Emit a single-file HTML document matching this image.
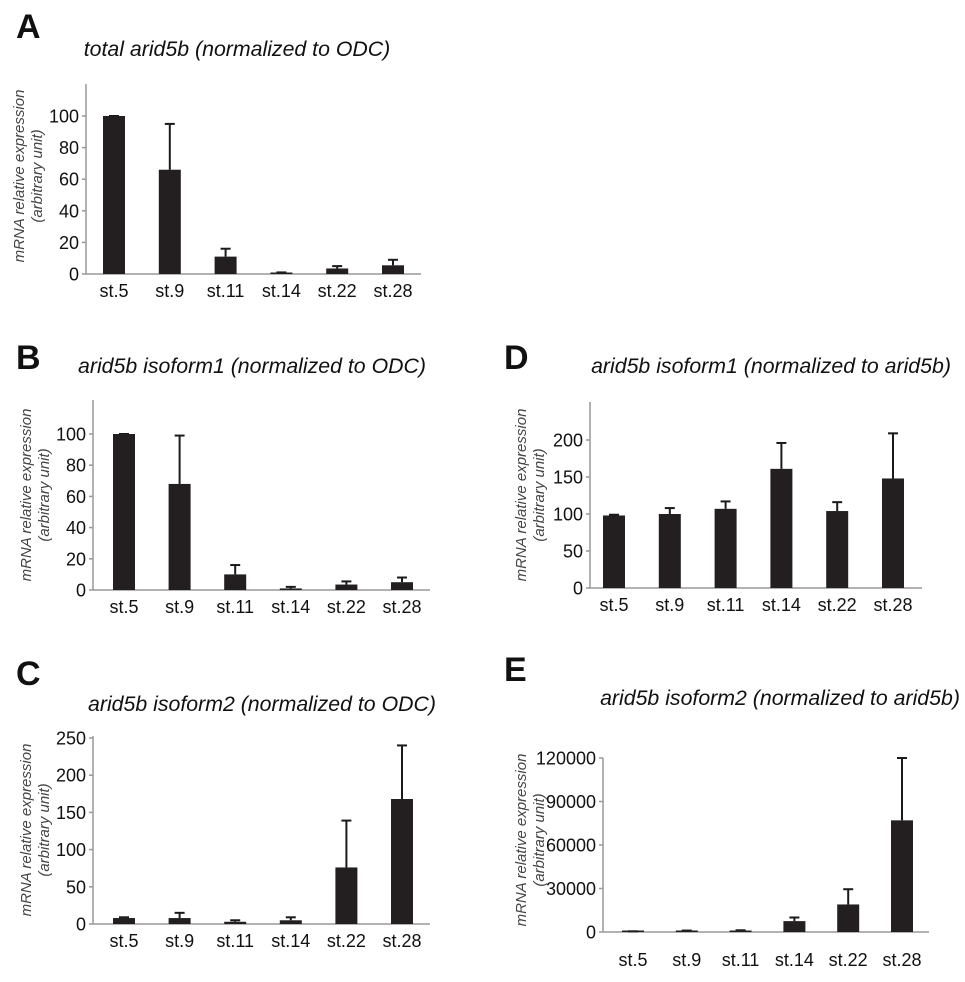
<!DOCTYPE html>
<html><head><meta charset="utf-8"><style>
html,body{margin:0;padding:0;background:#fff;}
svg{display:block;font-family:"Liberation Sans",Arial,sans-serif;}
</style></head><body>
<svg id="fig" width="965" height="982" viewBox="0 0 965 982" xmlns="http://www.w3.org/2000/svg"></svg>
<script>
const categories = ["st.5","st.9","st.11","st.14","st.22","st.28"];
const valuesA = [100,66,11,0.5,3.5,5.5];
const errTopA = [100,95,16,1,5,9];
const ticksA = [0,20,40,60,80,100];
const valuesB = [100,68,10,1,3.5,5];
const errTopB = [100,99,16,2,5.5,8];
const ticksB = [0,20,40,60,80,100];
const valuesC = [8,8,3,5,76,168];
const errTopC = [9,15,5,9,139,240];
const ticksC = [0,50,100,150,200,250];
const valuesD = [98,100,107,161,104,148];
const errTopD = [99,108,117,196,116,209];
const ticksD = [0,50,100,150,200];
const valuesE = [500,800,900,7500,19000,77000];
const errTopE = [500,1000,1200,10000,29500,120000];
const ticksE = [0,30000,60000,90000,120000];

const NS="http://www.w3.org/2000/svg";
const svg=document.getElementById('fig');
function mk(tag,attrs,parent){const e=document.createElementNS(NS,tag);for(const k in attrs)e.setAttribute(k,attrs[k]);(parent||svg).appendChild(e);return e;}

function panel(cfg){
  const g=mk('g',{});
  
  
  const L=mk('text',{x:cfg.lx,y:cfg.ly,'font-size':34,'font-weight':'bold',fill:'#111'},g);
  L.textContent=cfg.letter;
  
  
  const T=mk('text',{x:cfg.tx,y:cfg.ty,'font-size':21.3,'font-style':'italic','text-anchor':'middle',fill:'#111'},g);
  T.textContent=cfg.title;
  
  
  const ymax=cfg.ymax;
  const y=v=>cfg.base-(v/ymax)*(cfg.base-cfg.ymaxPx);
  const x=i=>cfg.x0+i*cfg.step;
  const ya=mk('line',{x1:cfg.ax,y1:cfg.top,x2:cfg.ax,y2:cfg.base,stroke:'#999','stroke-width':1.5},g);
  
  
  const xa=mk('line',{x1:cfg.ax,y1:cfg.base,x2:cfg.axEnd,y2:cfg.base,stroke:'#999','stroke-width':1.5},g);
  
  
  cfg.ticks.forEach(t=>{
    mk('line',{x1:cfg.ax-4,y1:y(t),x2:cfg.ax,y2:y(t),stroke:'#999','stroke-width':1.5},g);
    const tl=mk('text',{x:cfg.ax-7,y:y(t)+6.5,'font-size':18,'text-anchor':'end',fill:'#111'},g);
    tl.textContent=t;
    
    
  });
  const yl=mk('text',{transform:`translate(${cfg.ylx},${cfg.yly}) rotate(-90)`,'font-size':15,'font-style':'italic','text-anchor':'middle',fill:'#444'},g);
  
  
  const s1=mk('tspan',{x:0,y:0},yl);s1.textContent='mRNA relative expression';
  const s2=mk('tspan',{x:0,y:18},yl);s2.textContent='(arbitrary unit)';
  categories.forEach((c,i)=>{
    const v=cfg.values[i], e=cfg.err[i];
    const el=mk('line',{x1:x(i),y1:y(e),x2:x(i),y2:y(v),stroke:'#1a1a1a','stroke-width':2},g);
    
    
    mk('line',{x1:x(i)-5,y1:y(e),x2:x(i)+5,y2:y(e),stroke:'#1a1a1a','stroke-width':2},g);
    const h=Math.max(1.5,cfg.base-y(v));
    const b=mk('rect',{x:x(i)-11,y:cfg.base-h,width:22,height:h,fill:'#231f20'},g);
    
    
    const cl=mk('text',{x:x(i),y:cfg.labY,'font-size':18,'text-anchor':'middle',fill:'#111'},g);
    cl.textContent=c;
    
    
  });
}
panel({id:'a',letter:'A',lx:16,ly:38,title:'total arid5b (normalized to ODC)',tx:237,ty:56,ax:86,axEnd:421,top:84,base:274,ymax:100,ymaxPx:116,x0:114,step:55.8,ticks:ticksA,values:valuesA,err:errTopA,labY:297,ylx:24,yly:176});
panel({id:'b',letter:'B',lx:16,ly:369,title:'arid5b isoform1 (normalized to ODC)',tx:252,ty:373,ax:93,axEnd:430,top:400,base:590,ymax:100,ymaxPx:434,x0:124,step:55.6,ticks:ticksB,values:valuesB,err:errTopB,labY:613,ylx:31,yly:495});
panel({id:'c',letter:'C',lx:16,ly:685,title:'arid5b isoform2 (normalized to ODC)',tx:262,ty:711,ax:93,axEnd:430,top:736,base:924,ymax:250,ymaxPx:738,x0:124,step:55.6,ticks:ticksC,values:valuesC,err:errTopC,labY:947,ylx:31,yly:830});
panel({id:'d',letter:'D',lx:504,ly:369,title:'arid5b isoform1 (normalized to arid5b)',tx:771,ty:373,ax:590,axEnd:922,top:402,base:588,ymax:200,ymaxPx:440,x0:614,step:55.8,ticks:ticksD,values:valuesD,err:errTopD,labY:611,ylx:526,yly:495});
panel({id:'e',letter:'E',lx:504,ly:681,title:'arid5b isoform2 (normalized to arid5b)',tx:780,ty:705,ax:603,axEnd:929,top:758,base:932,ymax:120000,ymaxPx:758,x0:633,step:53.8,ticks:ticksE,values:valuesE,err:errTopE,labY:966,ylx:526,yly:840});
</script>
</body></html>
